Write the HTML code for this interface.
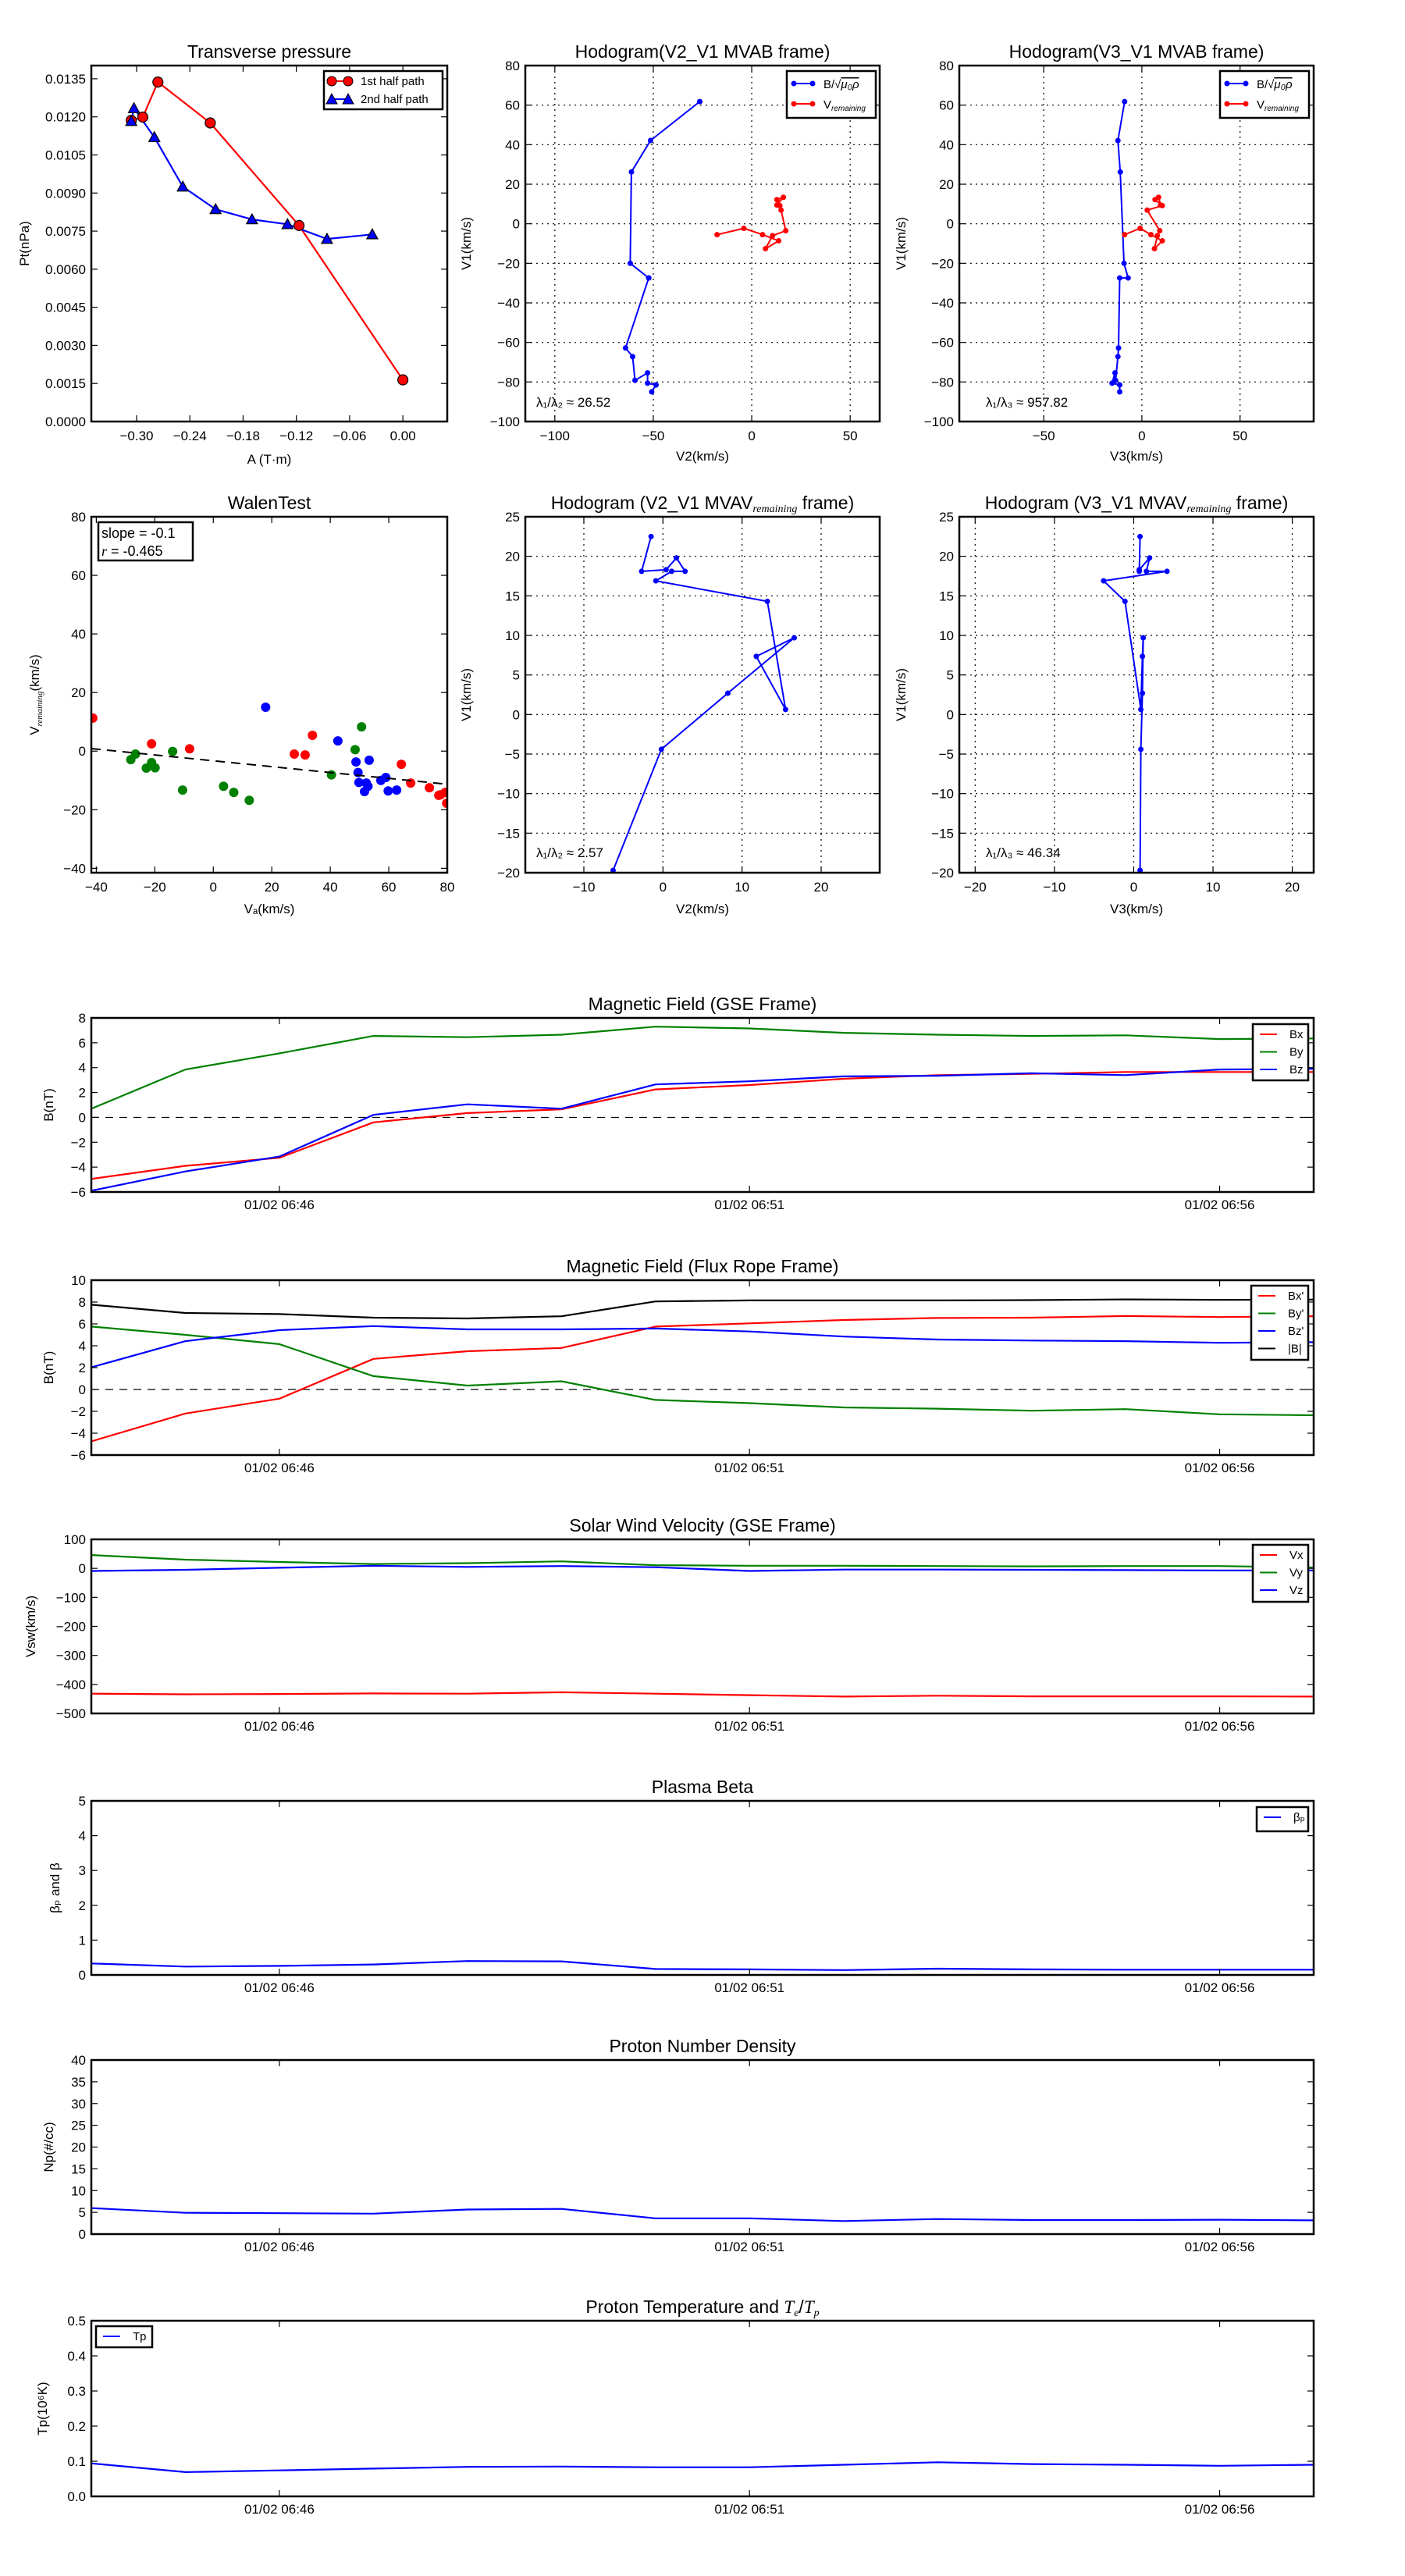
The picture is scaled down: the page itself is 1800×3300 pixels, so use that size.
<!DOCTYPE html>
<html><head><meta charset="utf-8">
<style>
body{margin:0;background:#fff}
svg{display:block}
text{font-family:"Liberation Sans","DejaVu Sans",sans-serif;fill:#000}
</style></head>
<body>
<svg id="fig" xmlns="http://www.w3.org/2000/svg" width="1800" height="3300" viewBox="0 0 1800 3300"></svg>
<script>
// ---------- DATA ----------
const tpA1 = [-0.306, -0.293, -0.276, -0.217, -0.117, 0.000];
const tpP1 = [0.01186, 0.01199, 0.01337, 0.01176, 0.00772, 0.00164];
const tpA2 = [-0.306, -0.303, -0.280, -0.248, -0.211, -0.170, -0.130, -0.0855, -0.0345];
const tpP2 = [0.01183, 0.01234, 0.0112, 0.00925, 0.00836, 0.00796, 0.00777, 0.00719, 0.00737];
const tpXTicks = [-0.30, -0.24, -0.18, -0.12, -0.06, 0.00];
const tpYTicks = [0, 0.0015, 0.003, 0.0045, 0.006, 0.0075, 0.009, 0.0105, 0.012, 0.0135];

const hbV1 = [61.8, 42.1, 26.2, -20, -27.4, -27.4, -62.8, -67.2, -79.2, -75.4, -80.6, -81.5, -85];
const hbV2 = [-26.4, -51.4, -61.1, -61.7, -52.3, -52.3, -64.1, -60.5, -59.3, -52.9, -52.9, -48.6, -50.8];
const hbV3 = [-8.8, -12.2, -11, -9.1, -7, -11.3, -11.9, -12.2, -13.4, -13.7, -15.2, -11.3, -11.3];
const hrV1 = [-5.5, -2.3, -5.5, -8.6, -12.6, -6, -3.5, 6.9, 9.2, 12.2, 13.4, 9.5];
const hrV2 = [-17.6, -4, 5.5, 13.7, 7, 10.6, 17.3, 14.9, 14.3, 12.8, 16.1, 12.8];
const hrV3 = [-8.8, -0.9, 4.6, 10.4, 6.4, 7.9, 9.1, 2.7, 10.4, 6.7, 8.5, 9.5];
const hYTicks = [-100, -80, -60, -40, -20, 0, 20, 40, 60, 80];
const hV2Ticks = [-100, -50, 0, 50];
const hV3Ticks = [-50, 0, 50];

const mvV1 = [22.5, 18.1, 18.3, 19.8, 18.1, 18.1, 16.9, 14.3, 0.64, 7.35, 9.7, 2.7, -4.4, -19.7];
const mvV2 = [-1.5, -2.7, 0.4, 1.7, 2.8, 1.1, -0.9, 13.2, 15.5, 11.8, 16.6, 8.2, -0.2, -6.3];
const mvV3 = [0.8, 0.7, 0.7, 2.0, 1.6, 4.2, -3.8, -1.1, 0.9, 1.1, 1.2, 1.1, 0.9, 0.8];
const mYTicks = [-20, -15, -10, -5, 0, 5, 10, 15, 20, 25];
const mV2Ticks = [-10, 0, 10, 20];
const mV3Ticks = [-20, -10, 0, 10, 20];

const wRedX = [-41.2, -21.1, -8.1, 27.7, 31.4, 33.9, 64.3, 67.5, 73.9, 77.1, 77.7, 79.3, 79.8];
const wRedY = [11.3, 2.5, 0.8, -1, -1.3, 5.4, -4.5, -10.9, -12.5, -15.1, -14.9, -14.1, -17.8];
const wGreenX = [-28.2, -26.6, -22.9, -21.1, -19.9, -13.9, -10.5, 3.5, 7, 12.3, 40.4, 48.5, 50.7];
const wGreenY = [-2.9, -1, -5.8, -3.9, -5.7, -0.1, -13.3, -12, -14.1, -16.8, -8.1, 0.5, 8.3];
const wBlueX = [17.9, 42.6, 48.8, 49.5, 53.3, 49.8, 52.3, 52.9, 51.7, 57.3, 59, 59.8, 62.7];
const wBlueY = [15, 3.5, -3.7, -7.3, -3.1, -10.7, -10.9, -12, -13.8, -10, -9, -13.6, -13.3];
const wSlope = -0.1;
const wIntercept = -3.3;
const wTicks = [-40, -20, 0, 20, 40, 60, 80];

const minutes = [44, 45, 46, 47, 48, 49, 50, 51, 52, 53, 54, 55, 56, 57];
const timeTicks = [46, 51, 56];
const timeTickLabels = ["01/02 06:46", "01/02 06:51", "01/02 06:56"];
const bx = [-4.95, -3.9, -3.25, -0.4, 0.35, 0.65, 2.25, 2.6, 3.1, 3.4, 3.5, 3.65, 3.65, 3.65];
const by = [0.7, 3.85, 5.15, 6.55, 6.45, 6.65, 7.3, 7.15, 6.8, 6.65, 6.55, 6.6, 6.3, 6.35];
const bz = [-5.9, -4.35, -3.15, 0.2, 1.05, 0.7, 2.65, 2.9, 3.3, 3.35, 3.55, 3.4, 3.85, 3.9];
const bxp = [-4.75, -2.2, -0.84, 2.8, 3.5, 3.8, 5.76, 6.05, 6.36, 6.54, 6.57, 6.72, 6.63, 6.7];
const byp = [5.76, 5.0, 4.15, 1.22, 0.36, 0.75, -0.96, -1.25, -1.64, -1.76, -1.94, -1.8, -2.27, -2.36];
const bzp = [2.03, 4.42, 5.43, 5.8, 5.5, 5.5, 5.58, 5.31, 4.84, 4.57, 4.48, 4.42, 4.27, 4.33];
const bmag = [7.76, 7.0, 6.9, 6.57, 6.5, 6.7, 8.06, 8.15, 8.15, 8.15, 8.18, 8.24, 8.2, 8.22];
const vx = [-432, -434, -433, -431, -432, -427, -432, -437, -442, -439, -441, -441, -441, -442];
const vy = [46, 30, 22, 15, 18, 24, 11, 9, 9, 8, 7, 8, 8, 3];
const vz = [-9, -5, 2, 9, 5, 8, 4, -9, -4, -4, -5, -6, -7, -7];
const betaP = [0.33, 0.24, 0.26, 0.30, 0.40, 0.39, 0.17, 0.16, 0.14, 0.18, 0.16, 0.15, 0.15, 0.15];
const np = [5.97, 4.9, 4.8, 4.7, 5.65, 5.8, 3.63, 3.63, 3.0, 3.47, 3.23, 3.23, 3.3, 3.15];
const tp = [0.094, 0.069, 0.074, 0.079, 0.084, 0.085, 0.083, 0.083, 0.090, 0.097, 0.092, 0.090, 0.087, 0.090];
const bTicks = [-6, -4, -2, 0, 2, 4, 6, 8];
const bpTicks = [-6, -4, -2, 0, 2, 4, 6, 8, 10];
const vTicks = [-500, -400, -300, -200, -100, 0, 100];
const betaTicks = [0, 1, 2, 3, 4, 5];
const npTicks = [0, 5, 10, 15, 20, 25, 30, 35, 40];
const tpTicks = [0.0, 0.1, 0.2, 0.3, 0.4, 0.5];

// ---------- HELPERS ----------
const NS = "http://www.w3.org/2000/svg";
const fig = document.getElementById("fig");
let clipN = 0;
function el(tag, attrs, parent, name) {
  const e = document.createElementNS(NS, tag);
  for (const k in attrs) e.setAttribute(k, attrs[k]);
  
  
  parent.appendChild(e);
  return e;
}
function txt(s, x, y, parent, name, size, anchor, extra) {
  const t = el("text", Object.assign({x: x, y: y, "font-size": size, "text-anchor": anchor || "middle"}, extra || {}), parent, name);
  t.textContent = s;
  return t;
}
// parts: array of [string, style] where style: null | 'sub' | 'it' | 'itsub'
function richTxt(parts, x, y, parent, name, size, anchor, extra) {
  const t = el("text", Object.assign({x: x, y: y, "font-size": size, "text-anchor": anchor || "middle"}, extra || {}), parent, name);
  let shifted = 0;
  parts.forEach(p => {
    const a = {};
    const st = p[1];
    if (st === 'sub' || st === 'itsub') { a["font-size"] = Math.round(size * 0.62); a.dy = 4 - shifted; shifted = 4; }
    else { a.dy = -shifted; shifted = 0; }
    if (st === 'it' || st === 'itsub') { a["font-style"] = "italic"; a["font-family"] = "Liberation Serif, serif"; }
    const ts = el("tspan", a, t, "text-part");
    ts.textContent = p[0];
  });
  return t;
}
function fmtMinus(s) { return String(s).replace("-", "\u2212"); }

function axes(o) {
  const g = el("g", {}, fig, o.name);
  const sx = v => o.l + (v - o.x0) / (o.x1 - o.x0) * (o.r - o.l);
  const sy = v => o.b - (v - o.y0) / (o.y1 - o.y0) * (o.b - o.t);
  const id = "clip" + (clipN++);
  const defs = el("defs", {}, g, "clip-defs");
  const cp = el("clipPath", {id: id}, defs, "clip-path");
  el("rect", {x: o.l, y: o.t, width: o.r - o.l, height: o.b - o.t}, cp, "clip-rect");
  const grid = el("g", {}, g, "grid");
  const data = el("g", {"clip-path": "url(#" + id + ")"}, g, "plot-area");
  const frame = el("g", {}, g, "axes-frame");
  const tl = 8;
  o.xticks.forEach((v, i) => {
    const x = sx(v);
    if (o.grid) el("line", {x1: x, y1: o.t, x2: x, y2: o.b, stroke: "#000", "stroke-width": 1.2, "stroke-dasharray": "2,5"}, grid, "x-grid-line");
    el("line", {x1: x, y1: o.b, x2: x, y2: o.b - tl, stroke: "#000", "stroke-width": 1.2}, frame, "x-tick");
    el("line", {x1: x, y1: o.t, x2: x, y2: o.t + tl, stroke: "#000", "stroke-width": 1.2}, frame, "x-tick");
    const lab = o.xlabels ? o.xlabels[i] : fmtMinus(o.xfmt ? o.xfmt(v) : v);
    txt(lab, x, o.b + (o.xtdy || 24), frame, "x-tick-label", o.tfs || 17);
  });
  o.yticks.forEach(v => {
    const y = sy(v);
    if (o.grid) el("line", {x1: o.l, y1: y, x2: o.r, y2: y, stroke: "#000", "stroke-width": 1.2, "stroke-dasharray": "2,5"}, grid, "y-grid-line");
    el("line", {x1: o.l, y1: y, x2: o.l + tl, y2: y, stroke: "#000", "stroke-width": 1.2}, frame, "y-tick");
    el("line", {x1: o.r, y1: y, x2: o.r - tl, y2: y, stroke: "#000", "stroke-width": 1.2}, frame, "y-tick");
    txt(fmtMinus(o.yfmt ? o.yfmt(v) : v), o.l - 7, y + 6, frame, "y-tick-label", o.tfs || 17, "end");
  });
  el("rect", {x: o.l, y: o.t, width: o.r - o.l, height: o.b - o.t, fill: "none", stroke: "#000", "stroke-width": 2.5}, frame, "axes-border");
  if (o.titleParts) richTxt(o.titleParts, (o.l + o.r) / 2, o.t - 10, frame, "chart-title", 23);
  else if (o.title) txt(o.title, (o.l + o.r) / 2, o.t - 10, frame, "chart-title", 23);
  if (o.xlabel) txt(o.xlabel, (o.l + o.r) / 2, o.xly, frame, "x-axis-title", 17);
  const cy = (o.t + o.b) / 2;
  if (o.ylabelParts) richTxt(o.ylabelParts, o.ylx, cy, frame, "y-axis-title", 17, "middle", {transform: "rotate(-90 " + o.ylx + " " + cy + ")"});
  else if (o.ylabel) txt(o.ylabel, o.ylx, cy, frame, "y-axis-title", 17, "middle", {transform: "rotate(-90 " + o.ylx + " " + cy + ")"});
  return {g, data, frame, sx, sy};
}
function polyline(ax, xs, ys, color, name, width) {
  const pts = xs.map((v, i) => ax.sx(v).toFixed(1) + "," + ax.sy(ys[i]).toFixed(1)).join(" ");
  return el("polyline", {points: pts, fill: "none", stroke: color, "stroke-width": width || 2.2, "stroke-linejoin": "round"}, ax.data, name);
}
function dots(ax, xs, ys, color, name, r, edge) {
  xs.forEach((v, i) => {
    const c = el("circle", {cx: ax.sx(v), cy: ax.sy(ys[i]), r: r, fill: color}, ax.data, name);
    if (edge) { c.setAttribute("stroke", "#000"); c.setAttribute("stroke-width", 1.2); }
  });
}
function tris(ax, xs, ys, color, name, s) {
  xs.forEach((v, i) => {
    const x = ax.sx(v), y = ax.sy(ys[i]);
    el("polygon", {points: `${x},${y - s} ${x - s},${y + s * 0.8} ${x + s},${y + s * 0.8}`, fill: color, stroke: "#000", "stroke-width": 1.2}, ax.data, name);
  });
}
function legendBox(x1, y1, x2, y2, name) {
  const g = el("g", {}, fig, name);
  el("rect", {x: x1, y: y1, width: x2 - x1, height: y2 - y1, fill: "#fff", stroke: "#000", "stroke-width": 2.5}, g, "legend-box");
  return g;
}

// ---------- TRANSVERSE PRESSURE ----------
(function () {
  const ax = axes({name: "transverse-pressure-chart", l: 117, r: 573, t: 84, b: 540, x0: -0.351, x1: 0.05, y0: 0, y1: 0.01402,
    xticks: tpXTicks, yticks: tpYTicks, xfmt: v => v.toFixed(2), yfmt: v => v.toFixed(4), title: "Transverse pressure",
    xlabel: "A (T\u00b7m)", xly: 594, ylabel: "Pt(nPa)", ylx: 37});
  polyline(ax, tpA1, tpP1, "#f00", "first-half-line");
  polyline(ax, tpA2, tpP2, "#00f", "second-half-line");
  dots(ax, tpA1, tpP1, "#f00", "first-half-point", 6.5, true);
  tris(ax, tpA2, tpP2, "#00f", "second-half-point", 7);
  const lg = legendBox(415, 91, 567, 140, "pressure-legend");
  el("line", {x1: 425, y1: 104, x2: 446, y2: 104, stroke: "#f00", "stroke-width": 2}, lg, "legend-line-1st");
  el("circle", {cx: 425, cy: 104, r: 6, fill: "#f00", stroke: "#000"}, lg, "legend-marker-1st");
  el("circle", {cx: 446, cy: 104, r: 6, fill: "#f00", stroke: "#000"}, lg, "legend-marker-1st");
  txt("1st half path", 462, 109, lg, "legend-entry-1st", 15, "start");
  el("line", {x1: 425, y1: 127, x2: 446, y2: 127, stroke: "#00f", "stroke-width": 2}, lg, "legend-line-2nd");
  el("polygon", {points: "425,120 418,133 432,133", fill: "#00f", stroke: "#000"}, lg, "legend-marker-2nd");
  el("polygon", {points: "446,120 439,133 453,133", fill: "#00f", stroke: "#000"}, lg, "legend-marker-2nd");
  txt("2nd half path", 462, 132, lg, "legend-entry-2nd", 15, "start");
})();

// ---------- HODOGRAM LEGEND ----------
function hodoLegend(x1, y1, name) {
  const lg = legendBox(x1, y1, x1 + 114, y1 + 60, name);
  el("line", {x1: x1 + 9, y1: y1 + 16, x2: x1 + 33, y2: y1 + 16, stroke: "#00f", "stroke-width": 2}, lg, "legend-line-b");
  el("circle", {cx: x1 + 9, cy: y1 + 16, r: 3.5, fill: "#00f"}, lg, "legend-marker-b");
  el("circle", {cx: x1 + 33, cy: y1 + 16, r: 3.5, fill: "#00f"}, lg, "legend-marker-b");
  const t1 = txt("B/\u221a", x1 + 47, y1 + 22, lg, "legend-entry-b", 15, "start");
  const ts = el("tspan", {"font-style": "italic", "text-decoration": "overline"}, t1, "legend-sqrt-arg");
  ts.textContent = "\u03bc\u2080\u03c1";
  el("line", {x1: x1 + 9, y1: y1 + 42, x2: x1 + 33, y2: y1 + 42, stroke: "#f00", "stroke-width": 2}, lg, "legend-line-v");
  el("circle", {cx: x1 + 9, cy: y1 + 42, r: 3.5, fill: "#f00"}, lg, "legend-marker-v");
  el("circle", {cx: x1 + 33, cy: y1 + 42, r: 3.5, fill: "#f00"}, lg, "legend-marker-v");
  const t2 = txt("V", x1 + 47, y1 + 48, lg, "legend-entry-v", 15, "start");
  const s2 = el("tspan", {"font-size": 10, "font-style": "italic", dy: 3}, t2, "legend-subscript");
  s2.textContent = "remaining";
}

// ---------- HODOGRAM MVAB ----------
(function () {
  const ax = axes({name: "hodogram-v2-v1-mvab", l: 673, r: 1127, t: 84, b: 540, x0: -115, x1: 65, y0: -100, y1: 80,
    xticks: hV2Ticks, yticks: hYTicks, grid: true, title: "Hodogram(V2_V1 MVAB frame)", xlabel: "V2(km/s)", xly: 590, ylabel: "V1(km/s)", ylx: 603});
  polyline(ax, hbV2, hbV1, "#00f", "b-hodogram-line", 2);
  dots(ax, hbV2, hbV1, "#00f", "b-hodogram-point", 3.5);
  polyline(ax, hrV2, hrV1, "#f00", "v-hodogram-line", 2);
  dots(ax, hrV2, hrV1, "#f00", "v-hodogram-point", 3.5);
  txt("\u03bb\u2081/\u03bb\u2082 \u2248 26.52", 687, 521, ax.frame, "eigen-ratio-label", 17, "start");
  hodoLegend(1008, 91, "hodogram-v2-legend");
})();
(function () {
  const ax = axes({name: "hodogram-v3-v1-mvab", l: 1229, r: 1683, t: 84, b: 540, x0: -93, x1: 87.5, y0: -100, y1: 80,
    xticks: hV3Ticks, yticks: hYTicks, grid: true, title: "Hodogram(V3_V1 MVAB frame)", xlabel: "V3(km/s)", xly: 590, ylabel: "V1(km/s)", ylx: 1160});
  polyline(ax, hbV3, hbV1, "#00f", "b-hodogram-line", 2);
  dots(ax, hbV3, hbV1, "#00f", "b-hodogram-point", 3.5);
  polyline(ax, hrV3, hrV1, "#f00", "v-hodogram-line", 2);
  dots(ax, hrV3, hrV1, "#f00", "v-hodogram-point", 3.5);
  txt("\u03bb\u2081/\u03bb\u2083 \u2248 957.82", 1263, 521, ax.frame, "eigen-ratio-label", 17, "start");
  hodoLegend(1563, 91, "hodogram-v3-legend");
})();

// ---------- WALEN ----------
(function () {
  const ax = axes({name: "walen-test-chart", l: 117, r: 573, t: 662, b: 1118, x0: -41.7, x1: 80, y0: -41.5, y1: 80,
    xticks: wTicks, yticks: wTicks, title: "WalenTest", xlabel: "V\u2090(km/s)", xly: 1170,
    ylabelParts: [["V", null], ["remaining", "itsub"], ["(km/s)", null]], ylx: 50});
  dots(ax, wRedX, wRedY, "#f00", "walen-red-point", 6);
  dots(ax, wGreenX, wGreenY, "#008000", "walen-green-point", 6);
  dots(ax, wBlueX, wBlueY, "#00f", "walen-blue-point", 6);
  const xa = -41.7, xb = 80;
  el("line", {x1: ax.sx(xa), y1: ax.sy(wSlope * xa + wIntercept), x2: ax.sx(xb), y2: ax.sy(wSlope * xb + wIntercept), stroke: "#000", "stroke-width": 2, "stroke-dasharray": "12,8"}, ax.data, "walen-fit-line");
  const bxg = legendBox(126, 669, 247, 718, "walen-stats-box");
  txt("slope = -0.1", 130, 689, bxg, "slope-label", 18, "start");
  richTxt([["r", "it"], [" = -0.465", null]], 130, 712, bxg, "correlation-label", 18, "start");
})();

// ---------- HODOGRAM MVAV ----------
(function () {
  const ax = axes({name: "hodogram-v2-v1-mvav", l: 673, r: 1127, t: 662, b: 1118, x0: -17.4, x1: 27.4, y0: -20, y1: 25,
    xticks: mV2Ticks, yticks: mYTicks, grid: true, titleParts: [["Hodogram (V2_V1 MVAV", null], ["remaining", "itsub"], [" frame)", null]],
    xlabel: "V2(km/s)", xly: 1170, ylabel: "V1(km/s)", ylx: 603});
  polyline(ax, mvV2, mvV1, "#00f", "mvav-line", 2);
  dots(ax, mvV2, mvV1, "#00f", "mvav-point", 3.5);
  txt("\u03bb\u2081/\u03bb\u2082 \u2248 2.57", 687, 1098, ax.frame, "eigen-ratio-label", 17, "start");
})();
(function () {
  const ax = axes({name: "hodogram-v3-v1-mvav", l: 1229, r: 1683, t: 662, b: 1118, x0: -22, x1: 22.7, y0: -20, y1: 25,
    xticks: mV3Ticks, yticks: mYTicks, grid: true, titleParts: [["Hodogram (V3_V1 MVAV", null], ["remaining", "itsub"], [" frame)", null]],
    xlabel: "V3(km/s)", xly: 1170, ylabel: "V1(km/s)", ylx: 1160});
  polyline(ax, mvV3, mvV1, "#00f", "mvav-line", 2);
  dots(ax, mvV3, mvV1, "#00f", "mvav-point", 3.5);
  txt("\u03bb\u2081/\u03bb\u2083 \u2248 46.34", 1263, 1098, ax.frame, "eigen-ratio-label", 17, "start");
})();

// ---------- TIME SERIES ----------
function tsAxes(name, t, b, y0, y1, yticks, yfmt, title, ylabel, ylx, titleParts) {
  return axes({name: name, l: 117, r: 1683, t: t, b: b, x0: 44, x1: 57, y0: y0, y1: y1,
    xticks: timeTicks, xlabels: timeTickLabels, yticks: yticks, yfmt: yfmt, title: title, titleParts: titleParts, ylabel: ylabel, ylx: ylx, xtdy: 22});
}
function tsLegend(x1, y1, x2, y2, entries, name) {
  const lg = legendBox(x1, y1, x2, y2, name);
  entries.forEach((e, i) => {
    const y = y1 + 13 + i * 22.5;
    el("line", {x1: x1 + 9, y1: y, x2: x1 + 31, y2: y, stroke: e[1], "stroke-width": 2}, lg, "legend-line");
    txt(e[0], x1 + 47, y + 5, lg, "legend-entry", 15, "start");
  });
}
function zeroLine(ax) {
  el("line", {x1: ax.sx(44), y1: ax.sy(0), x2: ax.sx(57), y2: ax.sy(0), stroke: "#000", "stroke-width": 1.2, "stroke-dasharray": "10,8"}, ax.data, "zero-line");
}
(function () {
  const ax = tsAxes("magnetic-field-gse-chart", 1304, 1527, -6, 8, bTicks, null, "Magnetic Field (GSE Frame)", "B(nT)", 68);
  zeroLine(ax);
  polyline(ax, minutes, bx, "#f00", "bx-line");
  polyline(ax, minutes, by, "#008000", "by-line");
  polyline(ax, minutes, bz, "#00f", "bz-line");
  tsLegend(1605, 1312, 1676, 1384, [["Bx", "#f00"], ["By", "#008000"], ["Bz", "#00f"]], "gse-legend");
})();
(function () {
  const ax = tsAxes("magnetic-field-flux-rope-chart", 1640, 1864, -6, 10, bpTicks, null, "Magnetic Field (Flux Rope Frame)", "B(nT)", 68);
  zeroLine(ax);
  polyline(ax, minutes, bmag, "#000", "bmag-line");
  polyline(ax, minutes, bxp, "#f00", "bx-prime-line");
  polyline(ax, minutes, byp, "#008000", "by-prime-line");
  polyline(ax, minutes, bzp, "#00f", "bz-prime-line");
  tsLegend(1603, 1647, 1676, 1742, [["Bx'", "#f00"], ["By'", "#008000"], ["Bz'", "#00f"], ["|B|", "#000"]], "flux-rope-legend");
})();
(function () {
  const ax = tsAxes("solar-wind-velocity-chart", 1972, 2195, -500, 100, vTicks, null, "Solar Wind Velocity (GSE Frame)", "Vsw(km/s)", 45);
  polyline(ax, minutes, vx, "#f00", "vx-line");
  polyline(ax, minutes, vy, "#008000", "vy-line");
  polyline(ax, minutes, vz, "#00f", "vz-line");
  tsLegend(1605, 1979, 1676, 2052, [["Vx", "#f00"], ["Vy", "#008000"], ["Vz", "#00f"]], "velocity-legend");
})();
(function () {
  const ax = tsAxes("plasma-beta-chart", 2307, 2530, 0, 5, betaTicks, null, "Plasma Beta", "\u03b2\u209a and \u03b2", 76);
  polyline(ax, minutes, betaP, "#00f", "beta-p-line");
  tsLegend(1610, 2315, 1676, 2346, [["\u03b2\u209a", "#00f"]], "beta-legend");
})();
(function () {
  const ax = tsAxes("proton-density-chart", 2639, 2862, 0, 40, npTicks, null, "Proton Number Density", "Np(#/cc)", 68);
  polyline(ax, minutes, np, "#00f", "np-line");
})();
(function () {
  const ax = tsAxes("proton-temperature-chart", 2973, 3198, 0, 0.5, tpTicks, v => v.toFixed(1), null, "Tp(10\u2076K)", 60,
    [["Proton Temperature and ", null], ["T", "it"], ["e", "itsub"], ["/", null], ["T", "it"], ["p", "itsub"]]);
  polyline(ax, minutes, tp, "#00f", "tp-line");
  tsLegend(123, 2980, 195, 3007, [["Tp", "#00f"]], "temperature-legend");
})();
</script>
</body></html>
